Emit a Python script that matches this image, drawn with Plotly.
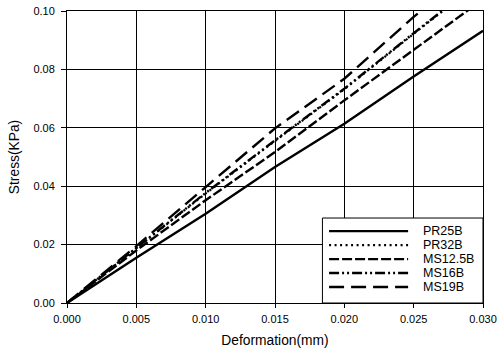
import plotly.graph_objects as go

deformation = [0.0, 0.005, 0.010, 0.015, 0.020, 0.025, 0.030]
pr25b = [0.0, 0.0155, 0.0306, 0.0466, 0.0614, 0.0776, 0.0932]
pr32b = [0.0, 0.0189, 0.0375, 0.0555, 0.0732, 0.0922, 0.1108]
ms125b = [0.0, 0.0180, 0.0352, 0.0517, 0.0694, 0.0866, 0.1040]
ms16b = [0.0, 0.0190, 0.0377, 0.0557, 0.0734, 0.0924, 0.1110]
ms19b = [0.0, 0.0195, 0.0397, 0.0598, 0.0768, 0.0980, 0.1170]

series = [
    ("PR25B", pr25b, "solid", 2.4),
    ("PR32B", pr32b, "2px,3.5px", 2.2),
    ("MS12.5B", ms125b, "10px,3px", 2.4),
    ("MS16B", ms16b, "10px,3px,2px,3px,2px,3px", 2.4),
    ("MS19B", ms19b, "15px,7px", 2.4),
]

font = "Liberation Sans, Arial, sans-serif"
fig = go.Figure()
for name, ys, dash, w in series:
    fig.add_trace(go.Scatter(x=deformation, y=ys, mode="lines", name=name,
                             showlegend=False,
                             line=dict(color="black", width=w, dash=dash)))

# custom legend box (lines longer than plotly's built-in legend samples)
shapes = [dict(type="rect", xref="paper", yref="paper", x0=0.614, x1=1.0,
               y0=0.0, y1=0.291, line=dict(color="black", width=1),
               fillcolor="white", layer="above")]
annotations = []
for i, (name, ys, dash, w) in enumerate(series):
    yy = 0.246 - i * 0.0478
    shapes.append(dict(type="line", xref="paper", yref="paper", x0=0.630, x1=0.820,
                       y0=yy, y1=yy, line=dict(color="black", width=w, dash=dash),
                       layer="above"))
    annotations.append(dict(xref="paper", yref="paper", x=0.851, y=yy, text=name,
                            showarrow=False, xanchor="left", yanchor="middle",
                            font=dict(size=12.5, family=font, color="black")))

fig.update_layout(
    width=502, height=351,
    margin=dict(l=67, r=19, t=11, b=48),
    paper_bgcolor="white", plot_bgcolor="white",
    font=dict(family=font, color="black", size=11),
    showlegend=False,
    shapes=shapes, annotations=annotations,
)
fig.update_xaxes(range=[0, 0.030], dtick=0.005, tickformat=".3f",
                 showgrid=True, gridcolor="black", gridwidth=1,
                 showline=True, linecolor="black", linewidth=1, mirror=True,
                 ticks="outside", ticklen=4, tickcolor="black",
                 ticklabelstandoff=2,
                 zeroline=False, automargin=False,
                 title=dict(text="Deformation(mm)", font=dict(size=13.8), standoff=11))
fig.update_yaxes(range=[0, 0.10], dtick=0.02, tickformat=".2f",
                 showgrid=True, gridcolor="black", gridwidth=1,
                 showline=True, linecolor="black", linewidth=1, mirror=True,
                 ticks="outside", ticklen=5, tickcolor="black",
                 ticklabelstandoff=4,
                 zeroline=False, automargin=False,
                 title=dict(text="Stress(KPa)", font=dict(size=13.8), standoff=10))

fig.write_html("out.html", config={"displayModeBar": False},
               post_script="document.body.style.margin='0';")
